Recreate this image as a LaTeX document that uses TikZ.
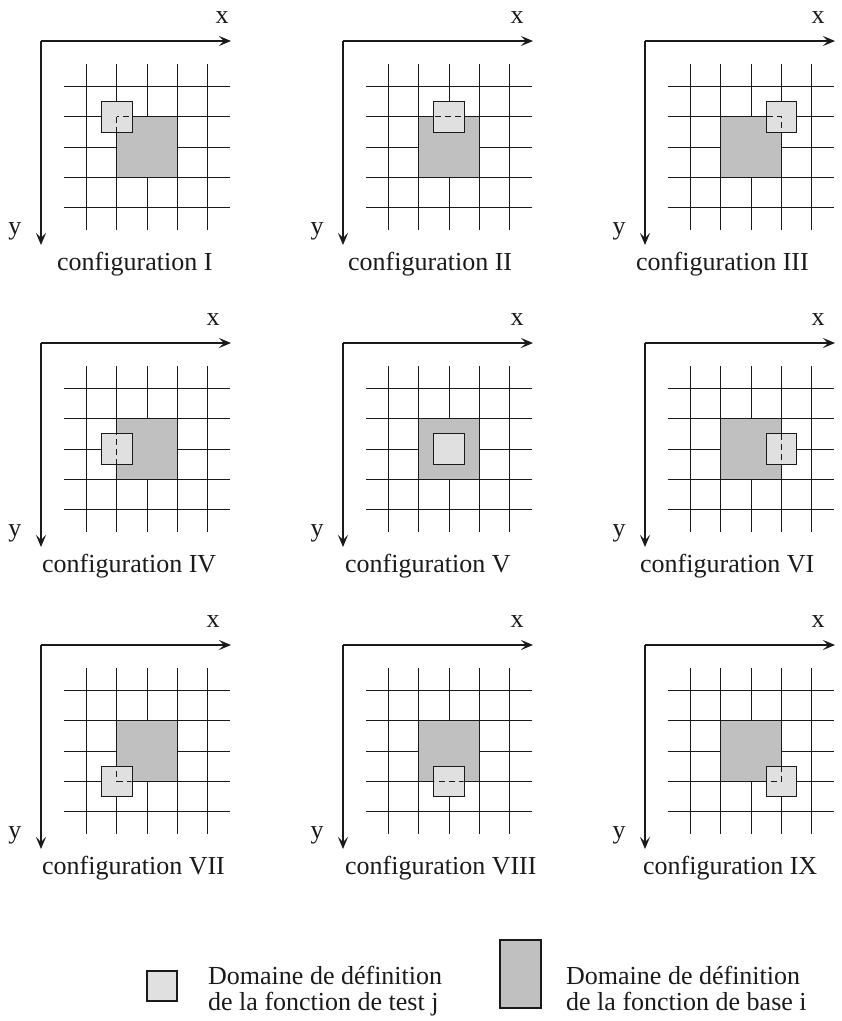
\documentclass[tikz,border=0pt]{standalone}
\usepackage{fontspec}
\setmainfont{Liberation Serif}
\usetikzlibrary{arrows.meta}
\definecolor{lightfill}{HTML}{E0E0E0}
\definecolor{darkfill}{HTML}{C0C0C0}
\definecolor{ink}{HTML}{1A1A1A}
\tikzset{
  gridline/.style={line width=1.1pt, draw=ink},
  axis/.style={line width=1.1pt, draw=ink, -{Stealth[length=12pt,width=10pt,inset=5pt]}},
  bigsq/.style={fill=darkfill, draw=ink, line width=1.1pt},
  smallsq/.style={fill=lightfill, draw=ink, line width=1.1pt},
  lbl/.style={font=\fontsize{26}{26}\selectfont, inner sep=0pt, text=ink},
  hiddenedge/.style={line width=1.1pt, draw=ink, dash pattern=on 6pt off 4pt},
}
% #1 name, #2 ox, #3 oy, #4 small i, #5 small j, #6 label, #7 label left x, #8 x-label offset
\newcommand\drawpanel[8]{%
  \begin{scope}[shift={(#2,#3)}]
    \coordinate (#1o) at (0,0);
    \coordinate (#1xe) at (190,0);
    \coordinate (#1ye) at (0,204);
    \foreach \k in {0,...,4} {
      \draw[gridline] ({45.7+30.2*\k},23) -- ({45.7+30.2*\k},189);
      \draw[gridline] (23,{45.7+30.2*\k}) -- (189,{45.7+30.2*\k});
    }
    \draw[bigsq] (75.9,75.9) rectangle (136.3,136.3);
    \draw[smallsq] ({45.7+30.2*#4-15.2},{45.7+30.2*#5-15.2}) rectangle ({45.7+30.2*#4+15.2},{45.7+30.2*#5+15.2});
    \begin{scope}
      \clip ({45.7+30.2*#4-14.6},{45.7+30.2*#5-14.6}) rectangle ({45.7+30.2*#4+14.6},{45.7+30.2*#5+14.6});
      \draw[hiddenedge] (75.9,75.9) rectangle (136.3,136.3);
    \end{scope}
    \draw[axis] (#1o) -- (#1xe);
    \draw[axis] (#1o) -- (#1ye);
    \node[lbl, anchor=base] (#1x) at (#8,-18) {x};
    \node[lbl, anchor=base] (#1y) at (-26,193) {y};
  \end{scope}
  \node[lbl, anchor=base west] (#1lab) at (#7,{#3+229}) {#6};
}
\begin{document}
\begin{tikzpicture}[x=1pt,y=-1pt]
\useasboundingbox (0,0) rectangle (842,1021);
\drawpanel{pI}{41}{41}{1}{1}{configuration I}{57}{181}
\drawpanel{pII}{343}{41}{2}{1}{configuration II}{348}{174}
\drawpanel{pIII}{645}{41}{3}{1}{configuration III}{636}{173}
\drawpanel{pIV}{41}{343}{1}{2}{configuration IV}{42}{172}
\drawpanel{pV}{343}{343}{2}{2}{configuration V}{345}{174}
\drawpanel{pVI}{645}{343}{3}{2}{configuration VI}{640}{173}
\drawpanel{pVII}{41}{645}{1}{3}{configuration VII}{42}{172}
\drawpanel{pVIII}{343}{645}{2}{3}{configuration VIII}{345}{174}
\drawpanel{pIX}{645}{645}{3}{3}{configuration IX}{643}{173}
% legend
\node[smallsq, minimum size=30pt, inner sep=0pt] (lgA) at (162,986) {};
\node[bigsq, minimum width=41pt, minimum height=68pt, inner sep=0pt] (lgB) at (520.5,974) {};
\node[lbl, anchor=base west] (lgA1) at (208,984) {Domaine de définition};
\node[lbl, anchor=base west] (lgA2) at (208,1010) {de la fonction de test j};
\node[lbl, anchor=base west] (lgB1) at (566,984) {Domaine de définition};
\node[lbl, anchor=base west] (lgB2) at (566,1010) {de la fonction de base i};
\end{tikzpicture}
\end{document}
